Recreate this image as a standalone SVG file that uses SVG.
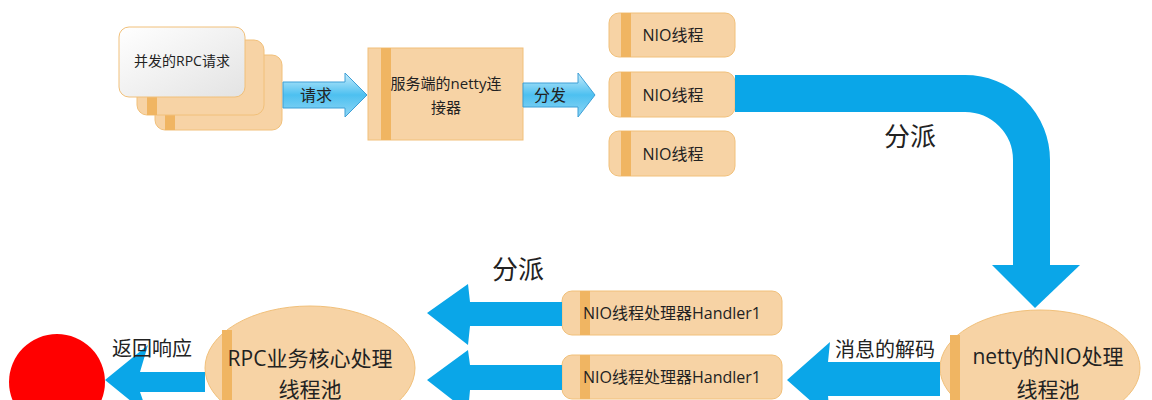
<svg xmlns="http://www.w3.org/2000/svg" width="1152" height="400" viewBox="0 0 1152 400">
<style>
.box{fill:#f7d3a5;stroke:#f1c07a;stroke-width:1}
.stripe{fill:#f0b562}
.t{font-family:"Open Sans","Noto Sans CJK SC",sans-serif;fill:#222;text-anchor:middle}
.blue{fill:#0aa6e8}
.sm{fill:url(#g);stroke:#3d9fd6;stroke-width:1}
</style>
<defs>
<linearGradient id="g" x1="0" y1="0" x2="0" y2="1">
<stop offset="0" stop-color="#c8ecfb"/><stop offset="0.5" stop-color="#4dc0f0"/><stop offset="1" stop-color="#8fd6f5"/>
</linearGradient>
<linearGradient id="gw" x1="0" y1="0" x2="1" y2="1">
<stop offset="0" stop-color="#ffffff"/><stop offset="1" stop-color="#e3e3e3"/>
</linearGradient>
</defs>
<g id="rpc-requests">
<rect class="box" x="155" y="55" width="127" height="75" rx="10"/>
<rect class="stripe" x="165" y="110" width="10" height="20"/>
<rect class="box" x="137" y="40" width="127" height="75" rx="10"/>
<rect class="stripe" x="147" y="95" width="10" height="20"/>
<rect x="119" y="27" width="126" height="70" rx="10" fill="url(#gw)" stroke="#f1c07a"/>
<text class="t" x="182" y="66" font-size="14">并发的RPC请求</text>
</g>
<g id="connector">
<rect class="box" x="368" y="48" width="155" height="92"/>
<rect class="stripe" x="381" y="48" width="10" height="92"/>
<text class="t" x="446" y="89" font-size="15">服务端的netty连</text>
<text class="t" x="446" y="113" font-size="15">接器</text>
</g>
<g id="nio-threads">
<rect class="box" x="609" y="13" width="126" height="44" rx="10"/><rect class="stripe" x="621" y="13" width="10" height="44"/>
<text class="t" x="673" y="41" font-size="16">NIO线程</text>
<rect class="box" x="609" y="72" width="126" height="45" rx="10"/><rect class="stripe" x="621" y="72" width="10" height="45"/>
<text class="t" x="673" y="101" font-size="16">NIO线程</text>
<rect class="box" x="609" y="131" width="126" height="45" rx="10"/><rect class="stripe" x="621" y="131" width="10" height="45"/>
<text class="t" x="673" y="160" font-size="16">NIO线程</text>
</g>
<g id="handlers">
<rect class="box" x="562" y="291" width="220" height="44" rx="10"/><rect class="stripe" x="580" y="291" width="10" height="44"/>
<text class="t" x="672" y="319" font-size="16">NIO线程处理器Handler1</text>
<rect class="box" x="562" y="355" width="220" height="44" rx="10"/><rect class="stripe" x="580" y="355" width="10" height="44"/>
<text class="t" x="672" y="383" font-size="16">NIO线程处理器Handler1</text>
</g>
<g id="netty-pool">
<ellipse class="box" cx="1040" cy="368" rx="100" ry="58"/>
<rect class="stripe" x="950" y="335" width="10" height="65"/>
<text class="t" x="1048" y="364" font-size="21">netty的NIO处理</text>
<text class="t" x="1048" y="397" font-size="21">线程池</text>
</g>
<g id="rpc-pool">
<ellipse class="box" cx="310" cy="368" rx="105" ry="62"/>
<rect class="stripe" x="222" y="330" width="10" height="70"/>
<text class="t" x="310" y="366" font-size="21">RPC业务核心处理</text>
<text class="t" x="310" y="397" font-size="21">线程池</text>
</g>
<g id="client"><circle cx="57" cy="382" r="48" fill="#ff0000"/></g>
<g id="connectors">
<polygon class="sm" points="283,82 345,82 345,73 367,95 345,117 345,108 283,108"/>
<text class="t" x="316" y="101" font-size="16">请求</text>
<polygon class="sm" points="523,83 578,83 578,73 595,95 578,117 578,107 523,107"/>
<text class="t" x="550" y="101" font-size="16">分发</text>
<path d="M735,93.5 H965 A66.5,66.5 0 0 1 1031.5,160 V266" fill="none" stroke="#0aa6e8" stroke-width="37"/>
<polygon class="blue" points="992,265 1080,265 1035,308"/>
<text class="t" x="910" y="146" font-size="26">分派</text>
<polygon class="blue" points="940,362 828,362 830,342 787,380 830,418 828,396 940,396"/>
<text class="t" x="885" y="357" font-size="20">消息的解码</text>
<polygon class="blue" points="562,302 470,302 468,284 427,313 468,345 470,326 562,326"/>
<polygon class="blue" points="562,365 470,365 468,350 427,380 468,412 470,390 562,390"/>
<text class="t" x="518" y="279" font-size="26">分派</text>
<polygon class="blue" points="205,372 140,372 148,345 105,380 148,415 140,392 205,392"/>
<text class="t" x="152" y="356" font-size="20">返回响应</text>
</g>
</svg>
